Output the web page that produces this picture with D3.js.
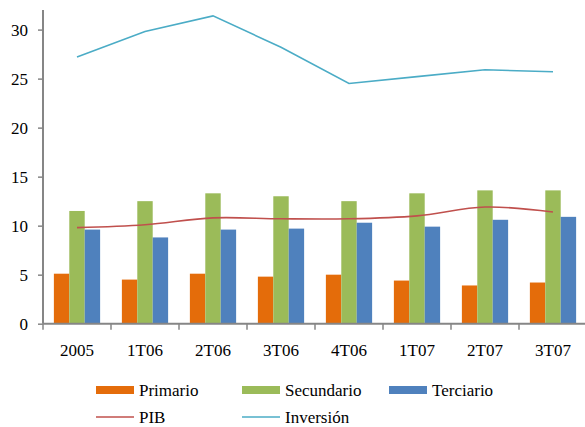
<!DOCTYPE html>
<html><head><meta charset="utf-8">
<script src="https://cdn.jsdelivr.net/npm/d3@7"></script>
<style>body{margin:0;background:#fff}svg{display:block}</style>
</head><body>
<svg id="c" width="585" height="427"></svg>
<script>
const categories = ["2005","1T06","2T06","3T06","4T06","1T07","2T07","3T07"];
const primario   = [5.1, 4.5, 5.1, 4.8, 5.0, 4.4, 3.9, 4.2];
const secundario = [11.5, 12.5, 13.3, 13.0, 12.5, 13.3, 13.6, 13.6];
const terciario  = [9.6, 8.8, 9.6, 9.7, 10.3, 9.9, 10.6, 10.9];
const pib        = [9.8, 10.1, 10.8, 10.7, 10.7, 11.0, 11.9, 11.4];
const inversion  = [27.2, 29.8, 31.4, 28.2, 24.5, 25.2, 25.9, 25.7];
const yTicks = [0, 5, 10, 15, 20, 25, 30];

const FONT = '"Liberation Serif"';
const FS = "17px";
const barSeries = [
  {name:"Primario", values:primario, color:"#E46C0A"},
  {name:"Secundario", values:secundario, color:"#9BBB59"},
  {name:"Terciario", values:terciario, color:"#4F81BD"}
];
const lineSeries = [
  {name:"PIB", values:pib, color:"#C0504D", curve:d3.curveCatmullRom.alpha(0.5)},
  {name:"Inversión", values:inversion, color:"#4BACC6", curve:d3.curveLinear}
];

const svg = d3.select("#c");
const mLeft = 43, mRight = 587, mTop = 10, mBottom = 323.7;
const x = d3.scaleBand().domain(categories).range([mLeft, mRight]).paddingInner(0).paddingOuter(0);
const y = d3.scaleLinear().domain([0, 32]).range([mBottom, mTop]);
const gap = x.bandwidth() * 0.16;
const inner = d3.scaleBand().domain(barSeries.map(d=>d.name)).range([gap, x.bandwidth() - gap]).padding(0);

// bars
barSeries.forEach(s => {
  svg.append("g").selectAll("rect").data(s.values).join("rect")
    .attr("x", (d,i) => x(categories[i]) + inner(s.name))
    .attr("y", d => y(d))
    .attr("width", inner.bandwidth())
    .attr("height", d => y(0) - y(d))
    .attr("fill", s.color);
});

// lines
lineSeries.forEach(s => {
  const line = d3.line().x((d,i) => x(categories[i]) + x.bandwidth()/2).y(d => y(d)).curve(s.curve);
  svg.append("path").datum(s.values).attr("d", line)
    .attr("fill","none").attr("stroke", s.color).attr("stroke-width", 1.6);
});

// y axis
const yAxis = svg.append("g").attr("transform", `translate(${mLeft},0)`)
  .call(d3.axisLeft(y).tickValues(yTicks).tickSize(5).tickPadding(10).tickFormat(d3.format("d")));
yAxis.select(".domain").attr("d", `M0,${mTop}V${mBottom}`).attr("stroke","#868686").attr("stroke-width",2);
yAxis.selectAll(".tick line").attr("stroke","#868686").attr("stroke-width",1.5);
yAxis.selectAll("text").attr("fill","#000").style("font-family", FONT).style("font-size", FS);

// x axis
const xAxis = svg.append("g").attr("transform", `translate(0,${mBottom})`)
  .call(d3.axisBottom(x).tickSize(0).tickPadding(20));
xAxis.select(".domain").attr("d", `M${mLeft},0H585`).attr("stroke","#868686").attr("stroke-width",2);
xAxis.selectAll(".tick line").remove();
xAxis.selectAll("text").attr("fill","#000").style("font-family", FONT).style("font-size", FS);
// category boundary ticks
svg.append("g").selectAll("line").data(categories).join("line")
  .attr("x1", d => x(d)).attr("x2", d => x(d))
  .attr("y1", mBottom).attr("y2", mBottom + 6)
  .attr("stroke","#868686").attr("stroke-width",1.5);

// legend
const legItems = [
  {name:"Primario", color:"#E46C0A", type:"bar", x:96, y:390},
  {name:"Secundario", color:"#9BBB59", type:"bar", x:242, y:390},
  {name:"Terciario", color:"#4F81BD", type:"bar", x:389, y:390},
  {name:"PIB", color:"#C0504D", type:"line", x:96, y:417},
  {name:"Inversión", color:"#4BACC6", type:"line", x:242, y:417}
];
const lg = svg.append("g");
legItems.forEach(it => {
  if (it.type === "bar") {
    lg.append("rect").attr("x", it.x).attr("y", it.y - 4).attr("width", 38).attr("height", 8).attr("fill", it.color);
  } else {
    lg.append("line").attr("x1", it.x).attr("x2", it.x + 38).attr("y1", it.y).attr("y2", it.y)
      .attr("stroke", it.color).attr("stroke-width", 1.6);
  }
  lg.append("text").attr("x", it.x + 43).attr("y", it.y).attr("dy","0.35em")
    .attr("fill","#000").style("font-family", FONT).style("font-size", FS).text(it.name);
});
</script>
</body></html>
